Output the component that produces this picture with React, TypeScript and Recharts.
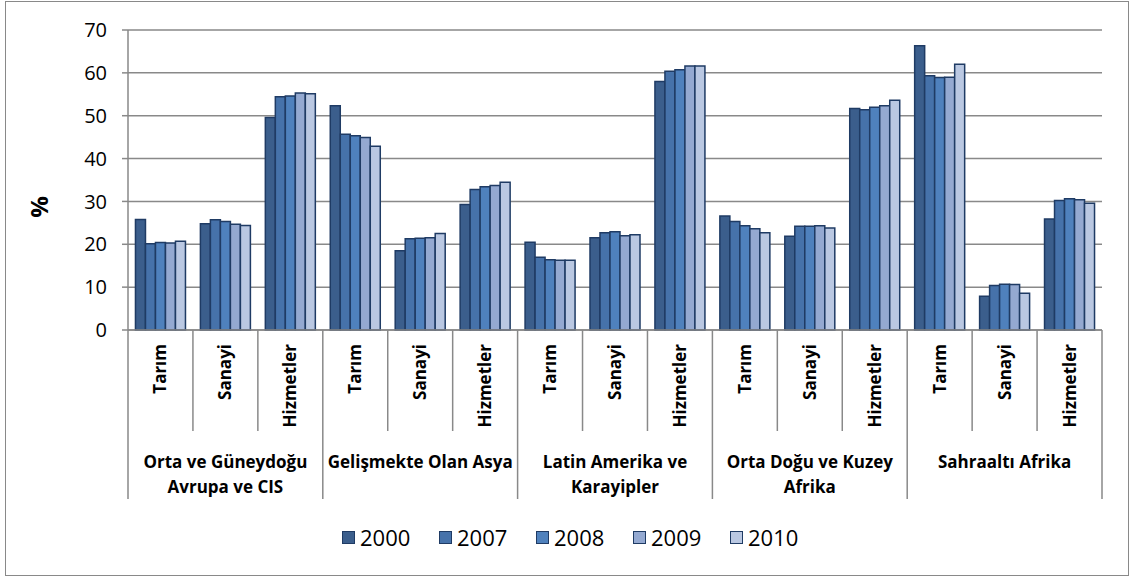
import { Bar, BarChart, CartesianGrid, Label, XAxis, YAxis } from "recharts";

const SECTORS = ["Tarım", "Sanayi", "Hizmetler"];
const REGIONS = [
  ["Orta ve Güneydoğu", "Avrupa ve CIS"],
  ["Gelişmekte Olan Asya"],
  ["Latin Amerika ve", "Karayipler"],
  ["Orta Doğu ve Kuzey", "Afrika"],
  ["Sahraaltı Afrika"],
];
const YEARS = ["2000", "2007", "2008", "2009", "2010"];
const Y_TICKS = [0, 10, 20, 30, 40, 50, 60, 70];

const V2000 = [25.8, 24.8, 49.6, 52.3, 18.5, 29.3, 20.5, 21.5, 58.0, 26.6, 21.9, 51.7, 66.3, 7.9, 25.9];
const V2007 = [20.1, 25.7, 54.4, 45.7, 21.3, 32.8, 17.0, 22.7, 60.4, 25.3, 24.2, 51.4, 59.3, 10.4, 30.2];
const V2008 = [20.4, 25.3, 54.6, 45.3, 21.4, 33.4, 16.4, 22.9, 60.7, 24.3, 24.2, 52.0, 58.9, 10.7, 30.6];
const V2009 = [20.3, 24.7, 55.3, 44.9, 21.5, 33.7, 16.3, 22.0, 61.6, 23.6, 24.3, 52.3, 59.0, 10.6, 30.4];
const V2010 = [20.7, 24.4, 55.1, 42.9, 22.5, 34.5, 16.3, 22.2, 61.6, 22.7, 23.8, 53.6, 62.0, 8.6, 29.6];

const SERIES = [V2000, V2007, V2008, V2009, V2010];
const COLORS = ["#3b5e8c", "#4672aa", "#4f81bd", "#94a9d1", "#bac8e2"];
const STROKE = "#1f3b64";
const GRAY = "#898989";
const FONT = "'Open Sans', sans-serif";

const W = 1131;
const H = 578;
const LEFT = 128;
const RIGHT = 29;
const TOP = 30;
const PLOT_BOTTOM = 330;
const STEP = (W - LEFT - RIGHT) / 15;

const data = V2000.map((_, i) => {
  const row: Record<string, string | number> = { id: String(i) };
  YEARS.forEach((y, s) => {
    row[y] = SERIES[s][i];
  });
  return row;
});

function CategoryTick(props: any) {
  const { x, payload } = props;
  const i = Number(payload.value);
  const left = x - STEP / 2;
  const region = REGIONS[Math.floor(i / 3)];
  return (
    <g>
      <line x1={left} x2={left} y1={PLOT_BOTTOM} y2={i % 3 === 0 ? 499 : 431} stroke={GRAY} strokeWidth={1.5} />
      {i === 14 && <line x1={left + STEP} x2={left + STEP} y1={PLOT_BOTTOM} y2={499} stroke={GRAY} strokeWidth={1.5} />}
      <text
        transform={`translate(${x + 6},${344}) rotate(-90)`}
        textAnchor="end"
        fontFamily={FONT}
        fontWeight="bold"
        fontSize={17}
        fill="#000"
      >
        {SECTORS[i % 3]}
      </text>
      {i % 3 === 1 &&
        region.map((line, k) => (
          <text
            key={k}
            x={x}
            y={468 + k * 25}
            textAnchor="middle"
            fontFamily={FONT}
            fontWeight="bold"
            fontSize={17}
            fill="#000"
          >
            {line}
          </text>
        ))}
    </g>
  );
}

function LegendBox() {
  return (
    <div
      style={{
        position: "absolute",
        top: 522,
        left: 342,
        display: "flex",
        fontFamily: FONT,
      }}
    >
      {YEARS.map((y, s) => (
        <div key={y} style={{ display: "flex", alignItems: "center", width: 97, height: 30 }}>
          <span
            style={{
              display: "inline-block",
              width: 13,
              height: 13,
              boxSizing: "border-box",
              background: COLORS[s],
              border: `1.5px solid ${STROKE}`,
              marginRight: 5,
            }}
          />
          <span style={{ fontSize: 22, color: "#000" }}>{y}</span>
        </div>
      ))}
    </div>
  );
}

export default function App() {
  return (
    <div style={{ position: "absolute", left: 0, top: 0, width: W, height: H, background: "#fff" }}>
      <div
        style={{
          position: "absolute",
          left: 5,
          top: 1,
          width: 1124,
          height: 575,
          border: `1.5px solid ${GRAY}`,
          boxSizing: "border-box",
        }}
      />
      <BarChart
        width={W}
        height={H}
        data={data}
        margin={{ top: TOP, right: RIGHT, left: 68, bottom: 78 }}
        barCategoryGap="11.5%"
        barGap={0}
      >
        <CartesianGrid vertical={false} stroke={GRAY} strokeWidth={1.5} />
        <XAxis
          dataKey="id"
          interval={0}
          height={170}
          tickLine={false}
          axisLine={{ stroke: GRAY, strokeWidth: 1.5 }}
          tick={<CategoryTick />}
        />
        <YAxis
          width={60}
          domain={[0, 70]}
          ticks={Y_TICKS}
          tickSize={6}
          tickMargin={15}
          tickLine={{ stroke: GRAY, strokeWidth: 1.5 }}
          axisLine={{ stroke: GRAY, strokeWidth: 1.5 }}
          tick={{ fill: "#000", fontSize: 20, fontFamily: FONT }}
        >
          <Label
            content={() => (
              <text
                transform="translate(48,207) rotate(-90)"
                textAnchor="middle"
                fontFamily={FONT}
                fontWeight="bold"
                fontSize={24}
                fill="#000"
              >
                %
              </text>
            )}
          />
        </YAxis>
        {YEARS.map((y, s) => (
          <Bar key={y} dataKey={y} fill={COLORS[s]} stroke={STROKE} strokeWidth={1.5} isAnimationActive={false} />
        ))}
      </BarChart>
      <LegendBox />
    </div>
  );
}
